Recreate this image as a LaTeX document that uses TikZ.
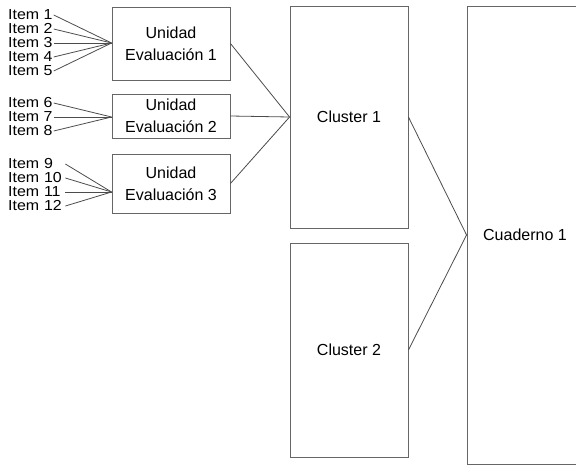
\documentclass[tikz,border=0pt]{standalone}
\usepackage{fontspec}
\setmainfont{Liberation Sans}
\newfontfamily\itemfont[FakeStretch=1.1]{Liberation Sans}
\usepackage{tikz}

\tikzset{
  box/.style={draw=black!60, line width=0.9pt, align=center, inner sep=0pt,
    font=\fontsize{16}{22}\selectfont},
  item/.style={anchor=west, inner sep=1pt, align=left,
    font=\fontsize{14.5}{14}\itemfont},
  link/.style={draw=black!70, line width=0.8pt}
}

\begin{document}
\begin{tikzpicture}[x=1pt, y=-1pt]
\useasboundingbox (0, 0) rectangle (576, 466);
\clip (0, 0) rectangle (576, 466);

% units
\node [box, minimum width=118pt, minimum height=73pt] (ue1) at (171, 43.5) {Unidad\\Evaluación 1};
\node [box, minimum width=118pt, minimum height=44pt] (ue2) at (171, 116) {Unidad\\Evaluación 2};
\node [box, minimum width=118pt, minimum height=59pt] (ue3) at (171, 183.5) {Unidad\\Evaluación 3};

% clusters and notebook
\node [box, minimum width=118pt, minimum height=222pt] (cl1) at (349, 117) {Cluster 1};
\node [box, minimum width=118pt, minimum height=214pt] (cl2) at (349, 350) {Cluster 2};
\node [box, minimum width=116pt, minimum height=458pt] (cua) at (525, 235) {Cuaderno 1};

% items
\node [item] (it1)  at (7, 15)  {Item 1};
\node [item] (it2)  at (7, 29)  {Item 2};
\node [item] (it3)  at (7, 43)  {Item 3};
\node [item] (it4)  at (7, 57)  {Item 4};
\node [item] (it5)  at (7, 71)  {Item 5};

\node [item] (it6)  at (7, 103) {Item 6};
\node [item] (it7)  at (7, 117) {Item 7};
\node [item] (it8)  at (7, 131) {Item 8};

\node [item, text width=56pt] (it9)  at (7, 164) {Item 9};
\node [item, text width=56pt] (it10) at (7, 178) {Item 10};
\node [item, text width=56pt] (it11) at (7, 192) {Item 11};
\node [item, text width=56pt] (it12) at (7, 206) {Item 12};

\coordinate (ue1in) at (ue1.west |- it3.east);
\coordinate (ue2in) at (ue2.west |- it7.east);
\coordinate (ue3in) at (ue3.west |- it11.east);

\draw [link] (it1.east) -- (ue1in);
\draw [link] (it2.east) -- (ue1in);
\draw [link] (it3.east) -- (ue1in);
\draw [link] (it4.east) -- (ue1in);
\draw [link] (it5.east) -- (ue1in);

\draw [link] (it6.east) -- (ue2in);
\draw [link] (it7.east) -- (ue2in);
\draw [link] (it8.east) -- (ue2in);

\draw [link] (it9.east)  -- (ue3in);
\draw [link] (it10.east) -- (ue3in);
\draw [link] (it11.east) -- (ue3in);
\draw [link] (it12.east) -- (ue3in);

% units to cluster
\draw [link] (ue1.east) -- (cl1.west);
\draw [link] (ue2.east) -- (cl1.west);
\draw [link] (ue3.east) -- (cl1.west);

% clusters to notebook
\draw [link] (cl1.east) -- (cua.west);
\draw [link] (cl2.east) -- (cua.west);
\end{tikzpicture}
\end{document}
